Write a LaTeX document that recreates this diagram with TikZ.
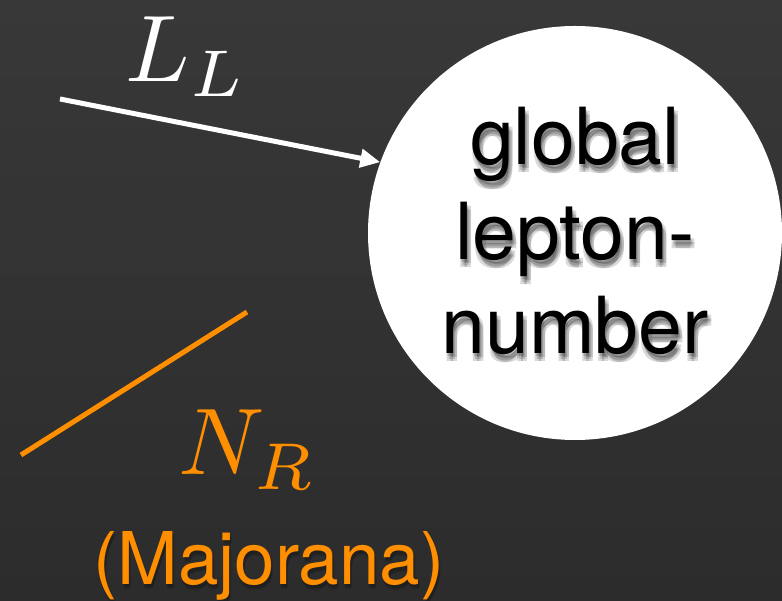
\documentclass[tikz,border=0pt]{standalone}
\usepackage{fontspec}
\newfontfamily\heros{TeX Gyre Heros}
\usepackage{xcolor}
\usepackage{tikz}
\usetikzlibrary{arrows.meta,positioning}
\definecolor{slatetop}{RGB}{56,56,56}
\definecolor{slatebot}{RGB}{44,44,44}
\definecolor{majorange}{RGB}{255,142,0}

\begin{document}
\begin{tikzpicture}[x=1bp, y=1bp,
    disc/.style={circle, fill=white, inner sep=0pt, minimum size=414bp},
    blob/.style={font=\heros\fontsize{79}{95}\selectfont, align=center, inner sep=0pt},
    majtext/.style={font=\heros\fontsize{73}{80}\selectfont, inner sep=0pt, anchor=base west},
    bigmath/.style={font=\fontsize{10}{12}\selectfont, scale=9.5, inner sep=0pt, anchor=base west},
    larrow/.style={white, line width=5bp, -{Triangle[length=20bp,width=18bp]}},
    nline/.style={majorange, line width=5bp}]
    \useasboundingbox (0,0) rectangle (782,601);
    \shade[top color=slatetop, bottom color=slatebot] (0,0) rectangle (782,601);
    \clip (0,0) rectangle (782,601);
    % the blob, text drawn with a soft shadow (offset copies)
    \node[disc] (lepnum) at (575,368) {};
    \foreach \dx/\dy in {1/-1,4/-2,4/-6,0/-6,2/-4}
        \node[blob, black, opacity=0.15] at ([shift={(\dx,\dy)}]lepnum.center) {global\\lepton-\\number};
    \node[blob, black] (leptext) at ([yshift=2]lepnum.center) {global\\lepton-\\number};
    \coordinate (lstart) at (60,502);
    \draw[larrow] (lstart) -- (lepnum.160);
    \node[bigmath, white] (llabel) at (124,519) {$L_L$};
    \coordinate (nstart) at (21,146);
    \coordinate (nend) at (247,289);
    \draw[nline] (nstart) -- (nend);
    \node[bigmath, majorange] (nlabel) at (177,126) {$N_R$};
    \foreach \dx/\dy in {2/-3,1/-5}
        \node[majtext, black, opacity=0.15] at ([shift={(\dx,\dy)}]93,16) {(Majorana)};
    \node[majtext, majorange] (majlabel) at (93,16) {(Majorana)};
\end{tikzpicture}
\end{document}
